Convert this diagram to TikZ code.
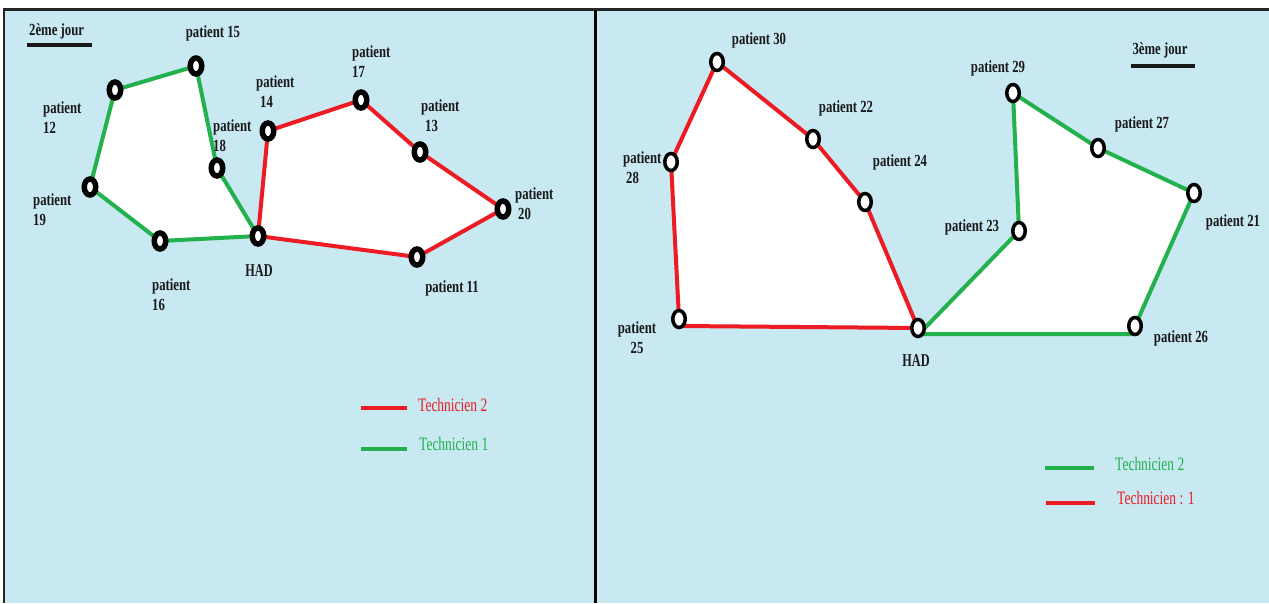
\documentclass[tikz,border=0pt]{standalone}
\usepackage{fontspec}
\usetikzlibrary{shapes.geometric}
\newfontfamily\labf{Liberation Serif}[FakeStretch=0.75]
\newfontfamily\hadf{Liberation Serif}[FakeStretch=0.68]
\newfontfamily\legf{Liberation Serif}[FakeStretch=0.71]
\definecolor{bgblue}{RGB}{200,232,242}
\definecolor{tred}{RGB}{237,28,36}
\definecolor{tgreen}{RGB}{34,177,76}
\begin{document}
\begin{tikzpicture}[x=1pt,y=-1pt,
  lab/.style={inner sep=0pt, text=black!90, font=\labf\bfseries\fontsize{17}{20}\selectfont},
  hadlab/.style={inner sep=0pt, text=black!90, font=\hadf\bfseries\fontsize{18}{20}\selectfont},
  leg/.style={inner sep=0pt, font=\legf\fontsize{19}{20}\selectfont},
  redroute/.style={draw=tred, line width=4, line join=round},
  greenroute/.style={draw=tgreen, line width=4, line join=round},
  whitefill/.style={fill=white},
  lring/.style={ellipse, draw=black, line width=5.5, fill=white, minimum width=11.5, minimum height=16, inner sep=0pt},
  rring/.style={ellipse, draw=black, line width=3.5, fill=white, minimum width=12.5, minimum height=17, inner sep=0pt},
  uline/.style={line width=4, black!90},
  legline/.style={line width=4.5}
]
\useasboundingbox (0,0) rectangle (1269,603);
\fill[white] (0,0) rectangle (1269,603);
\fill[bgblue] (5,10) rectangle (1269,603);
\draw[line width=2.5, black!85] (4,603) -- (4,9.5) -- (1269,9.5);
\draw[line width=3.5, black] (595.5,10) -- (595.5,603);

% ---------- left panel (2eme jour) ----------
\coordinate (had1) at (258,236);
\coordinate (p16) at (160,241);
\coordinate (p19) at (90,187);
\coordinate (p12) at (115,90);
\coordinate (p15) at (196,66);
\coordinate (p18) at (217,168);
\coordinate (p14) at (268,131);
\coordinate (p17) at (361,100);
\coordinate (p13) at (420,152);
\coordinate (p20) at (503,209);
\coordinate (p11) at (417,257);

\fill[whitefill] (had1) -- (p16) -- (p19) -- (p12) -- (p15) -- (p18) -- cycle;
\fill[whitefill] (had1) -- (p14) -- (p17) -- (p13) -- (p20) -- (p11) -- cycle;
\draw[greenroute] (had1) -- (p16) -- (p19) -- (p12) -- (p15) -- (p18) -- cycle;
\draw[redroute] (had1) -- (p14) -- (p17) -- (p13) -- (p20) -- (p11) -- cycle;

\foreach \n in {had1,p16,p19,p12,p15,p18,p14,p17,p13,p20,p11}
  \node[lring] (r\n) at (\n) {};

\node[lab, anchor=west] (t2j) at (29,31) {2ème jour};
\coordinate (u2a) at (27,45);
\coordinate (u2b) at (92,45);
\draw[uline] (u2a) -- (u2b);

\node[lab] (l15) at (213,33) {patient 15};
\node[lab, anchor=west, align=left] (l12) at (43,118) {patient\\12};
\node[lab, anchor=west, align=left] (l19) at (33,210) {patient\\19};
\node[lab, anchor=west, align=left] (l16) at (152,295) {patient\\16};
\node[lab, anchor=west, align=left] (l18) at (213,136) {patient\\18};
\node[lab, anchor=west, align=left] (l14) at (256,92) {patient\\\hspace*{4pt}14};
\node[lab, anchor=west, align=left] (l17) at (352,62) {patient\\17};
\node[lab, anchor=west, align=left] (l13) at (421,116) {patient\\\hspace*{4pt}13};
\node[lab, anchor=west, align=left] (l20) at (515,204) {patient\\\hspace*{3pt}20};
\node[lab] (l11) at (452,288) {patient 11};
\node[hadlab] (lhad1) at (259,271) {HAD};

% legend left
\coordinate (lg1a) at (361,408);
\coordinate (lg1b) at (407,408);
\coordinate (lg2a) at (361,449);
\coordinate (lg2b) at (407,449);
\draw[legline, tred] (lg1a) -- (lg1b);
\draw[legline, tgreen] (lg2a) -- (lg2b);
\node[leg, text=tred, anchor=west] (lt1) at (418,405) {Technicien 2};
\node[leg, text=tgreen, anchor=west] (lt2) at (419,444) {Technicien 1};

% ---------- right panel (3eme jour) ----------
\coordinate (had2) at (918,328);
\coordinate (p25) at (679,319);
\coordinate (p25b) at (681,326);
\coordinate (p28) at (671,162);
\coordinate (p30) at (717,62);
\coordinate (p22) at (813,139);
\coordinate (p24) at (865,202);
\coordinate (had2g) at (919,334);
\coordinate (p23) at (1019,231);
\coordinate (p29) at (1013,93);
\coordinate (p27) at (1098,148);
\coordinate (p21) at (1194,193);
\coordinate (p26) at (1135,326);
\coordinate (p26b) at (1133,334);

\fill[whitefill] (had2) -- (p25b) -- (p25) -- (p28) -- (p30) -- (p22) -- (p24) -- cycle;
\fill[whitefill] (had2g) -- (p23) -- (p29) -- (p27) -- (p21) -- (p26) -- (p26b) -- cycle;
\draw[redroute] (had2) -- (p25b) -- (p25) -- (p28) -- (p30) -- (p22) -- (p24) -- cycle;
\draw[greenroute] (had2g) -- (p23) -- (p29) -- (p27) -- (p21) -- (p26) -- (p26b) -- cycle;

\foreach \n in {had2,p25,p28,p30,p22,p24,p23,p29,p27,p21,p26}
  \node[rring] (r\n) at (\n) {};

\node[lab] (l30) at (759,40) {patient 30};
\node[lab] (l22) at (846,108) {patient 22};
\node[lab] (l24) at (900,162) {patient 24};
\node[lab, anchor=west, align=left] (l28) at (623,168) {patient\\\hspace*{3pt}28};
\node[lab, align=center] (l25) at (637,338) {patient\\25};
\node[hadlab] (lhad2) at (916,361) {HAD};
\node[lab] (l29) at (998,68) {patient 29};
\node[lab] (l27) at (1142,124) {patient 27};
\node[lab] (l21) at (1233,222) {patient 21};
\node[lab] (l23) at (972,227) {patient 23};
\node[lab] (l26) at (1181,338) {patient 26};

\node[lab] (t3j) at (1160,50) {3ème jour};
\coordinate (u3a) at (1131,66);
\coordinate (u3b) at (1195,66);
\draw[uline] (u3a) -- (u3b);

% legend right
\coordinate (lg3a) at (1045,468);
\coordinate (lg3b) at (1094,468);
\coordinate (lg4a) at (1046,503);
\coordinate (lg4b) at (1095,503);
\draw[legline, tgreen] (lg3a) -- (lg3b);
\draw[legline, tred] (lg4a) -- (lg4b);
\node[leg, text=tgreen, anchor=west] (lt3) at (1115,464) {Technicien 2};
\node[leg, text=tred, anchor=west] (lt4) at (1117,498) {Technicien : 1};
\end{tikzpicture}
\end{document}
